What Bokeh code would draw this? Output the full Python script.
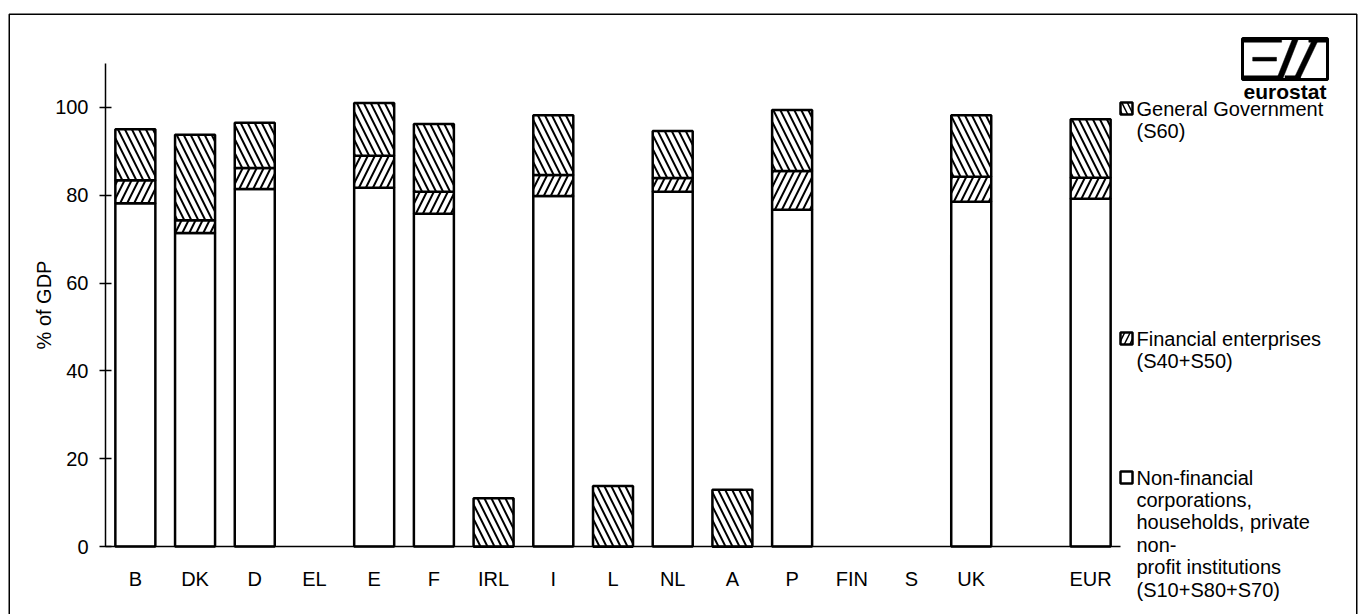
from bokeh.plotting import figure
from bokeh.models import (ColumnDataSource, Range1d, FixedTicker,
                          Label, BoxAnnotation, PolyAnnotation)
from bokeh.embed import file_html
from bokeh.resources import INLINE

# ---------------- data ----------------
countries = ["B", "DK", "D", "EL", "E", "F", "IRL", "I", "L", "NL", "A", "P",
             "FIN", "S", "UK", "", "EUR"]
non_financial = [78.2, 71.4, 81.4, None, 81.7, 75.8, 0.0, 79.8, 0.0, 80.8, 0.0, 76.7,
                 None, None, 78.5, None, 79.2]
financial = [5.2, 2.9, 4.8, None, 7.3, 5.0, 0.0, 4.8, 0.0, 3.1, 0.0, 8.8,
             None, None, 5.7, None, 4.8]
general_gov = [11.6, 19.5, 10.3, None, 12.0, 15.4, 11.0, 13.6, 13.8, 10.7, 12.9, 13.9,
               None, None, 14.0, None, 13.3]
y_ticks = [0, 20, 40, 60, 80, 100]
y_max = 110
series_labels = ["Non-financial\ncorporations,\nhouseholds, private\nnon-\nprofit institutions\n(S10+S80+S70)",
                 "Financial enterprises\n(S40+S50)",
                 "General Government\n(S60)"]
y_title = "% of GDP"
logo_text = "eurostat"

# ---------------- layout (image pixels) ----------------
W, H = 1365, 614
FX0, FX1 = 105, 1120      # x extent of the category axis
FY0, FY1 = 63, 546        # y pixel of y_max and of 0
FONT = "Liberation Sans"
n = len(countries)
SX = (FX1 - FX0) / n
SY = (FY1 - FY0) / y_max

def dx(px):
    return (px - FX0) / SX

def dy(py):
    return (FY1 - py) / SY

keep = [i for i, v in enumerate(general_gov) if v is not None]
src = ColumnDataSource(dict(
    x=[i + 0.5 for i in keep],
    nf=[non_financial[i] for i in keep],
    fin=[financial[i] for i in keep],
    gg=[general_gov[i] for i in keep],
))

p = figure(width=W, height=H, output_backend="svg", toolbar_location=None,
           x_range=Range1d(dx(0), dx(W)), y_range=Range1d(dy(H), dy(0)),
           min_border=0)
p.outline_line_color = None
p.grid.visible = False
p.background_fill_color = "white"
p.border_fill_color = "white"

p.vbar_stack(["nf", "fin", "gg"], x="x", width=0.67, source=src,
             fill_color="white", line_color="black", line_width=2.5,
             hatch_pattern=[" ", "/", "\\"], hatch_color="black",
             hatch_scale=14, hatch_weight=2)

# axes, placed at the data origin
p.xaxis.fixed_location = 0
p.xaxis.bounds = (0, n)
p.yaxis.fixed_location = 0
p.yaxis.bounds = (0, y_max)
p.yaxis.ticker = FixedTicker(ticks=y_ticks)
p.yaxis.minor_tick_line_color = None
p.yaxis.major_tick_in = 6
p.yaxis.major_tick_out = 6
p.yaxis.major_tick_line_width = 1.5
p.yaxis.major_tick_line_color = "black"
p.yaxis.major_label_standoff = 11
p.yaxis.axis_label = y_title
p.yaxis.axis_label_standoff = -3
p.xaxis.ticker = FixedTicker(ticks=[i + 0.5 for i, c in enumerate(countries) if c])
p.xaxis.major_label_overrides = {i + 0.5: c for i, c in enumerate(countries) if c}
p.xaxis.major_tick_line_color = None
p.xaxis.major_tick_out = 0
p.xaxis.major_tick_in = 0
p.xaxis.minor_tick_line_color = None
p.xaxis.major_label_standoff = 21
for ax in (p.xaxis, p.yaxis):
    ax.axis_line_width = 1.5
    ax.axis_line_color = "black"
    ax.major_label_text_font = FONT
    ax.major_label_text_font_size = "20px"
    ax.major_label_text_color = "black"
    ax.axis_label_text_font = FONT
    ax.axis_label_text_font_size = "20px"
    ax.axis_label_text_font_style = "normal"
    ax.axis_label_text_color = "black"

# outer frame border
p.add_layout(BoxAnnotation(left=dx(8.75), right=dx(1356.25), top=dy(13.75), bottom=dy(H + 50),
                           fill_alpha=0, line_color="black", line_alpha=1, line_width=1.5))

# legend
leg_rows = [(477, " "), (338, "/"), (108, "\\")]
for (cy, hatch), lab in zip(leg_rows, series_labels):
    p.add_layout(BoxAnnotation(left=dx(1120), right=dx(1132), top=dy(cy - 6), bottom=dy(cy + 6),
                               fill_color="white", fill_alpha=1, line_color="black", line_alpha=1,
                               line_width=2.5, hatch_pattern=hatch, hatch_color="black",
                               hatch_alpha=1, hatch_scale=11, hatch_weight=1.5))
    for k, line in enumerate(lab.split("\n")):
        p.add_layout(Label(x=dx(1136), y=dy(cy + k * 22.4), text=line,
                           text_font=FONT, text_font_size="20px", text_color="black",
                           text_baseline="middle", text_align="left"))

# eurostat logo
LX0, LX1, LY0, LY1 = 1242, 1327, 38, 79
lw_ = LX1 - LX0
lh_ = LY1 - LY0
p.add_layout(BoxAnnotation(left=dx(LX0), right=dx(LX1), top=dy(LY0), bottom=dy(LY1),
                           fill_alpha=0, line_color="black", line_alpha=1, line_width=3))

def poly(pts):
    p.add_layout(PolyAnnotation(xs=[dx(LX0 + a * lw_) for a, b in pts],
                                ys=[dy(LY0 + b * lh_) for a, b in pts],
                                fill_color="black", fill_alpha=1,
                                line_color="black", line_alpha=1, line_width=0.5))

t = 0.09
poly([(0, 0), (0.46, 0), (0.46, t), (0, t)])
poly([(0.12, 0.46), (0.40, 0.46), (0.40, 0.46 + t), (0.12, 0.46 + t)])
poly([(0, 1 - t), (0.44, 1 - t), (0.44, 1), (0, 1)])
poly([(0.40, 1), (0.47, 1), (0.66, 0), (0.59, 0)])
poly([(0.60, 1), (0.67, 1), (0.90, 0), (0.83, 0)])
poly([(0.78, 0), (1, 0), (1, t), (0.78, t)])
poly([(0.50, 1 - t), (0.68, 1 - t), (0.68, 1), (0.50, 1)])
p.add_layout(Label(x=dx((LX0 + LX1) / 2), y=dy(91), text=logo_text,
                   text_font=FONT, text_font_size="21px", text_font_style="bold",
                   text_color="black", text_baseline="middle", text_align="center"))

open("out.html", "w").write(file_html(p, INLINE))
